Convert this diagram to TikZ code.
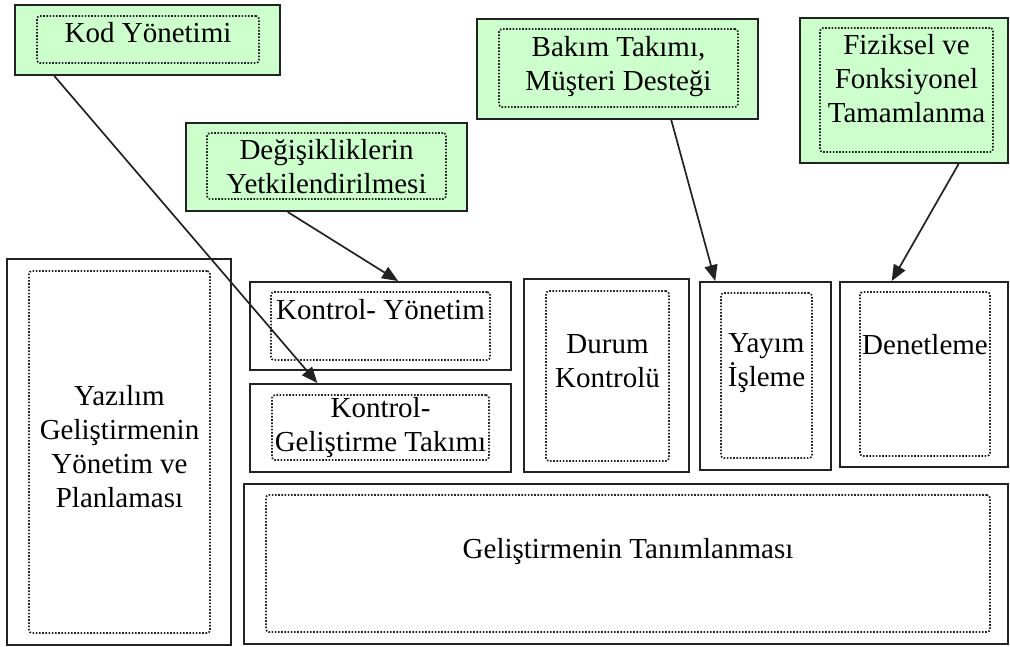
\documentclass[tikz,border=0pt]{standalone}
\usepackage{fontspec}
\setmainfont{Liberation Serif}
\usetikzlibrary{arrows.meta,calc}

\definecolor{boxgreen}{HTML}{CCFFCC}
\definecolor{framegray}{HTML}{222222}

\tikzset{
  outerbox/.style={draw=framegray, line width=2pt, rectangle, inner sep=0pt},
  greenbox/.style={outerbox, fill=boxgreen},
  innerbox/.style={draw=framegray, line width=1.7pt, dash pattern=on 1.6pt off 1.6pt, rounded corners=3pt, rectangle, inner sep=0pt},
  label/.style={align=center, inner sep=0pt, text=black, font=\fontsize{29}{34}\selectfont},
  link/.style={draw=framegray, line width=1.7pt, -{Triangle[length=16pt,width=13pt]}}
}

\begin{document}
\begin{tikzpicture}[x=1pt, y=-1pt]
\useasboundingbox (0,0) rectangle (1010,647);

% upper boxes (green)
\node[greenbox, minimum width=265pt, minimum height=70pt] (kod) at (147.5,40) {};
\node[innerbox, minimum width=222pt, minimum height=47pt] (kodin) at (148,39.5) {};
\node[label] (kodtx) at (148,33) {Kod Yönetimi};

\node[greenbox, minimum width=281pt, minimum height=88pt] (deg) at (326.5,167) {};
\node[innerbox, minimum width=239pt, minimum height=66pt] (degin) at (326.5,166) {};
\node[label] (degtx) at (326.5,167) {Değişikliklerin\\Yetkilendirilmesi};

\node[greenbox, minimum width=281pt, minimum height=100pt] (bak) at (617.5,69) {};
\node[innerbox, minimum width=239pt, minimum height=78pt] (bakin) at (618.5,68) {};
\node[label] (baktx) at (618.5,67) {Bakım Takımı,\\Müşteri Desteği};

\node[greenbox, minimum width=208pt, minimum height=145pt] (fiz) at (904,90.5) {};
\node[innerbox, minimum width=173pt, minimum height=124pt] (fizin) at (906.5,90) {};
\node[label] (fiztx) at (906.5,79) {Fiziksel ve\\Fonksiyonel\\Tamamlanma};

% lower boxes
\node[outerbox, minimum width=224pt, minimum height=386pt] (yaz) at (119,452) {};
\node[innerbox, minimum width=181pt, minimum height=362pt] (yazin) at (119.5,452) {};
\node[label] (yaztx) at (119.5,447) {Yazılım\\Geliştirmenin\\Yönetim ve\\Planlaması};

\node[outerbox, minimum width=261pt, minimum height=88pt] (ky) at (380.5,326) {};
\node[innerbox, minimum width=219pt, minimum height=68pt] (kyin) at (380.5,326) {};
\node[label] (kytx) at (380.5,310) {Kontrol- Yönetim};

\node[outerbox, minimum width=261pt, minimum height=88pt] (kg) at (380.5,428) {};
\node[innerbox, minimum width=217pt, minimum height=65pt] (kgin) at (380.5,427.5) {};
\node[label] (kgtx) at (380.5,428) {Kontrol-\\Geliştirme Takımı};

\node[outerbox, minimum width=165pt, minimum height=193pt] (dur) at (606.5,375.5) {};
\node[innerbox, minimum width=123pt, minimum height=170pt] (durin) at (607.5,376) {};
\node[label] (durtx) at (607.5,361) {Durum\\Kontrolü};

\node[outerbox, minimum width=131pt, minimum height=188pt] (yay) at (765.5,376) {};
\node[innerbox, minimum width=91pt, minimum height=165pt] (yayin) at (766.5,375.5) {};
\node[label] (yaytx) at (766.5,363) {Yayım\\İşleme};

\node[outerbox, minimum width=168pt, minimum height=185pt] (den) at (924,374.5) {};
\node[innerbox, minimum width=130pt, minimum height=164pt] (denin) at (925,374) {};
\node[label] (dentx) at (925,345) {Denetleme};

\node[outerbox, minimum width=764pt, minimum height=160pt] (tan) at (626,564) {};
\node[innerbox, minimum width=724pt, minimum height=137pt] (tanin) at (628,563.5) {};
\node[label] (tantx) at (628,552) {Geliştirmenin Tanımlanması};

% connectors
\draw[link] ($(kod.south west)!0.151!(kod.south east)$) -- ($(kg.north west)!0.26!(kg.north east)$);
\draw[link] ($(deg.south west)!0.363!(deg.south east)$) -- ($(ky.north west)!0.567!(ky.north east)$);
\draw[link] ($(bak.south west)!0.69!(bak.south east)$) -- ($(yay.north west)!0.122!(yay.north east)$);
\draw[link] ($(fiz.south west)!0.76!(fiz.south east)$) -- ($(den.north west)!0.31!(den.north east)$);
\end{tikzpicture}
\end{document}
